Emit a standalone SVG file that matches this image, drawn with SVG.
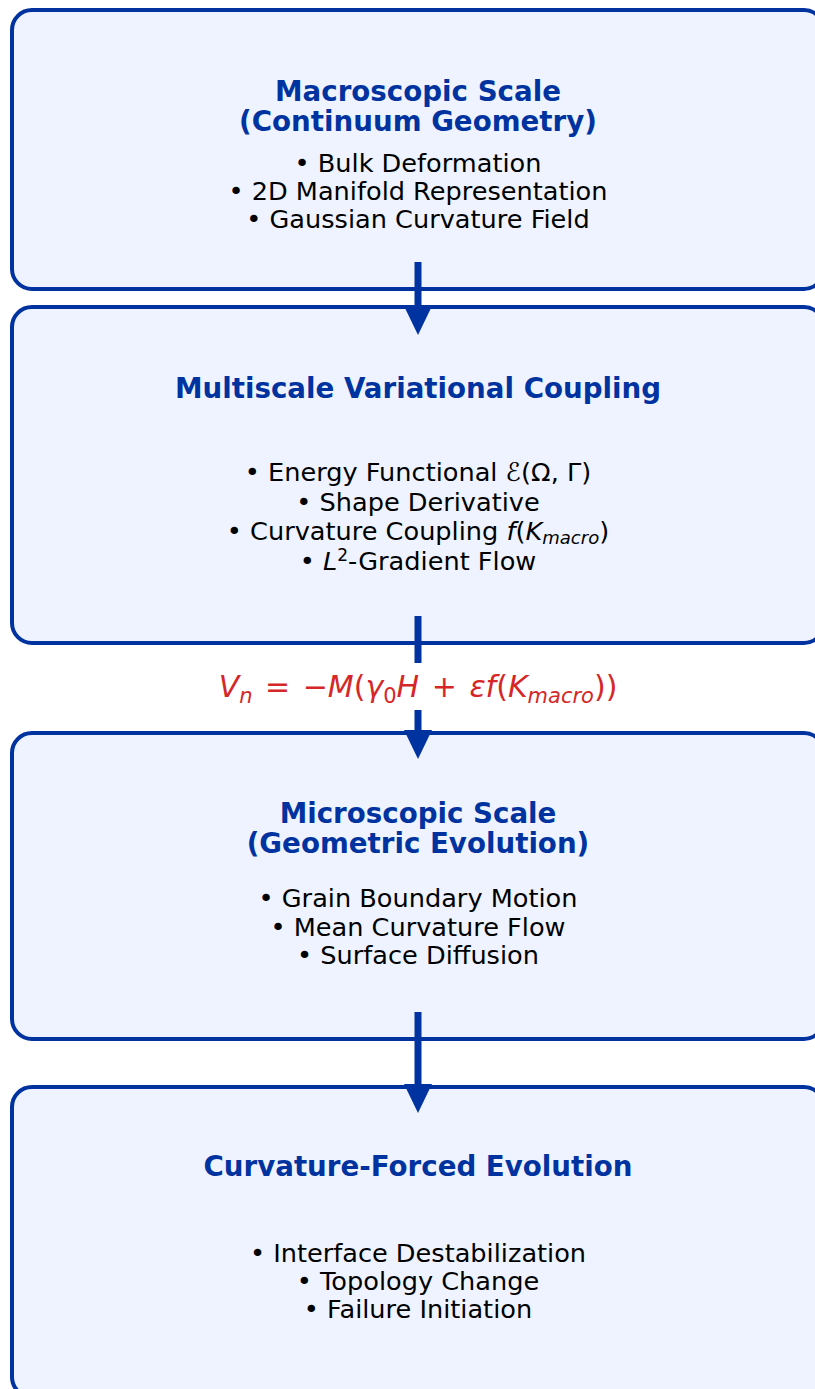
<svg xmlns="http://www.w3.org/2000/svg" width="815" height="1389" viewBox="0 0 815 1389">
<style>
.box{fill:#EEF3FF;stroke:#0033A0;stroke-width:4}
.title{font-family:"DejaVu Sans",sans-serif;font-weight:bold;font-size:27.7px;fill:#0033A0;text-anchor:middle}
.body{font-family:"DejaVu Sans",sans-serif;font-size:25.6px;fill:#000;text-anchor:middle}
.formula{font-family:"DejaVu Sans",sans-serif;font-size:30px;fill:#D62728;text-anchor:middle;word-spacing:3px}
.i{font-style:italic}
.shaft{fill:#0033A0}
</style>
<rect width="815" height="1389" fill="#fff"/>
<g id="node-macro">
<rect class="box" x="12" y="10" width="812" height="279" rx="20"/>
<text class="title" x="418" y="101">Macroscopic Scale</text>
<text class="title" x="418" y="131">(Continuum Geometry)</text>
<text class="body" x="418" y="172">• Bulk Deformation</text>
<text class="body" x="418" y="200">• 2D Manifold Representation</text>
<text class="body" x="418" y="228">• Gaussian Curvature Field</text>
</g>
<g id="node-coupling">
<rect class="box" x="12" y="307" width="812" height="336" rx="20"/>
<text class="title" x="418" y="398">Multiscale Variational Coupling</text>
<text class="body" x="418" y="481">• Energy Functional <tspan class="i">ℰ</tspan>(Ω, Γ)</text>
<text class="body" x="418" y="511">• Shape Derivative</text>
<text class="body" x="418" y="540">• Curvature Coupling <tspan class="i">f</tspan>(<tspan class="i">K</tspan><tspan class="i" font-size="18" dy="4">macro</tspan><tspan dy="-4">)</tspan></text>
<text class="body" x="418" y="570">• <tspan class="i">L</tspan><tspan font-size="17" dy="-9">2</tspan><tspan dy="9">-Gradient Flow</tspan></text>
</g>
<g id="node-micro">
<rect class="box" x="12" y="733" width="812" height="306" rx="20"/>
<text class="title" x="418" y="823">Microscopic Scale</text>
<text class="title" x="418" y="853">(Geometric Evolution)</text>
<text class="body" x="418" y="907">• Grain Boundary Motion</text>
<text class="body" x="418" y="936">• Mean Curvature Flow</text>
<text class="body" x="418" y="964">• Surface Diffusion</text>
</g>
<g id="node-evolution">
<rect class="box" x="12" y="1087" width="812" height="310" rx="20"/>
<text class="title" x="418" y="1176">Curvature-Forced Evolution</text>
<text class="body" x="418" y="1262">• Interface Destabilization</text>
<text class="body" x="418" y="1290">• Topology Change</text>
<text class="body" x="418" y="1318">• Failure Initiation</text>
</g>
<g id="connectors">
<rect class="shaft" x="414.5" y="262" width="7" height="45"/>
<polygon class="shaft" points="404,306 432,306 418,335"/>
<rect class="shaft" x="414.5" y="616" width="7" height="47"/>
<rect class="shaft" x="414.5" y="710" width="7" height="22"/>
<polygon class="shaft" points="404,730 432,730 418,759"/>
<rect class="shaft" x="414.5" y="1012" width="7" height="74"/>
<polygon class="shaft" points="404,1084 432,1084 418,1113"/>
<text class="formula" x="418" y="697"><tspan class="i">V</tspan><tspan class="i" font-size="21" dy="6">n</tspan><tspan dy="-6"> = −</tspan><tspan class="i">M</tspan>(<tspan class="i">γ</tspan><tspan font-size="21" dy="6">0</tspan><tspan class="i" dy="-6">H</tspan> + <tspan class="i">εf</tspan>(<tspan class="i">K</tspan><tspan class="i" font-size="21" dy="6">macro</tspan><tspan dy="-6">))</tspan></text>
</g>
</svg>
